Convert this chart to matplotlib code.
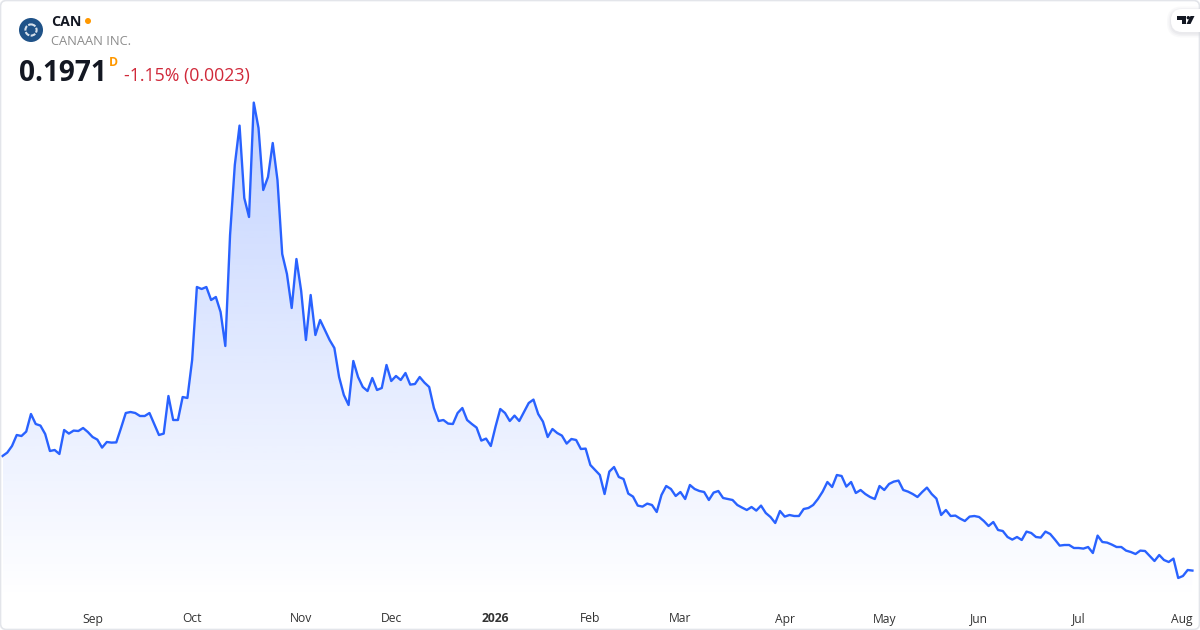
import numpy as np
import matplotlib
matplotlib.use("Agg")
import matplotlib.pyplot as plt
from matplotlib.patches import Circle, FancyBboxPatch, Polygon

plt.rcParams['font.family'] = ['Open Sans', 'DejaVu Sans']

# daily close
prices = [
    0.770, 0.787, 0.820, 0.875, 0.870, 0.892, 0.980, 0.930, 0.922, 0.880,
    0.795, 0.800, 0.780, 0.900, 0.882, 0.897, 0.895, 0.910, 0.890, 0.865,
    0.852, 0.812, 0.840, 0.837, 0.838, 0.910, 0.985, 0.990, 0.985, 0.970,
    0.970, 0.985, 0.930, 0.875, 0.882, 1.070, 0.950, 0.950, 1.065, 1.060,
    1.250, 1.615, 1.605, 1.615, 1.550, 1.565, 1.490, 1.320, 1.875, 2.225,
    2.422, 2.060, 1.965, 2.537, 2.410, 2.100, 2.165, 2.335, 2.150, 1.780,
    1.680, 1.510, 1.755, 1.595, 1.350, 1.575, 1.375, 1.450, 1.400, 1.350,
    1.310, 1.165, 1.075, 1.025, 1.245, 1.165, 1.115, 1.095, 1.160, 1.100,
    1.110, 1.225, 1.145, 1.170, 1.150, 1.185, 1.127, 1.130, 1.165, 1.137,
    1.115, 1.010, 0.945, 0.950, 0.932, 0.930, 0.985, 1.010, 0.950, 0.930,
    0.912, 0.847, 0.857, 0.820, 0.917, 1.005, 0.985, 0.945, 0.972, 0.945,
    0.990, 1.035, 1.052, 0.980, 0.942, 0.865, 0.905, 0.885, 0.872, 0.832,
    0.855, 0.850, 0.805, 0.807, 0.725, 0.700, 0.675, 0.580, 0.692, 0.715,
    0.665, 0.655, 0.582, 0.567, 0.522, 0.517, 0.532, 0.525, 0.490, 0.575,
    0.620, 0.605, 0.570, 0.590, 0.555, 0.625, 0.605, 0.595, 0.590, 0.550,
    0.587, 0.595, 0.560, 0.555, 0.550, 0.525, 0.512, 0.500, 0.515, 0.497,
    0.522, 0.485, 0.465, 0.435, 0.495, 0.467, 0.475, 0.470, 0.470, 0.505,
    0.510, 0.525, 0.555, 0.592, 0.640, 0.615, 0.675, 0.670, 0.617, 0.640,
    0.585, 0.600, 0.580, 0.565, 0.555, 0.620, 0.600, 0.630, 0.642, 0.647,
    0.600, 0.592, 0.580, 0.565, 0.590, 0.612, 0.580, 0.557, 0.475, 0.500,
    0.470, 0.472, 0.457, 0.445, 0.467, 0.470, 0.465, 0.445, 0.420, 0.440,
    0.400, 0.395, 0.365, 0.352, 0.365, 0.350, 0.392, 0.385, 0.365, 0.362,
    0.392, 0.380, 0.352, 0.322, 0.325, 0.325, 0.310, 0.310, 0.307, 0.315,
    0.285, 0.372, 0.340, 0.337, 0.327, 0.315, 0.315, 0.297, 0.290, 0.280,
    0.297, 0.295, 0.270, 0.245, 0.275, 0.250, 0.240, 0.257, 0.160, 0.170,
    0.200, 0.1971,
]
tick_days = [19, 40, 63, 82, 104, 124, 143, 165, 186, 206, 227, 248.7]
tick_labels = ['Sep', 'Oct', 'Nov', 'Dec', '2026', 'Feb', 'Mar', 'Apr', 'May', 'Jun', 'Jul', 'Aug']

days = np.arange(len(prices))

fig = plt.figure(figsize=(12, 6.3), dpi=100)
ax = fig.add_axes([0, 30 / 630, 1, 600 / 630])

# gradient under the line, clipped to the area
fill = ax.fill_between(days, prices, 0.05, facecolor='none', edgecolor='none')
grad = np.zeros((256, 1, 4))
grad[:, 0, 0] = 41 / 255
grad[:, 0, 1] = 98 / 255
grad[:, 0, 2] = 1.0
grad[:, 0, 3] = np.linspace(0.28, 0.0, 256)
img = ax.imshow(grad, extent=[days[0], days[-1], 0.05, max(prices)], aspect='auto', zorder=1, origin='upper')
img.set_clip_path(fill.get_paths()[0], transform=ax.transData)
ax.set_xlim(-0.53, 252.6)
ax.set_ylim(0.05, 3.05)

ax.plot(days, prices, color='#2962ff', lw=1.7, zorder=2, solid_joinstyle='round')

ax.set_xticks(tick_days)
ax.set_xticklabels(tick_labels, fontsize=8.7, color='#333333')
ax.get_xticklabels()[4].set_fontweight('bold')
ax.tick_params(axis='x', length=0, pad=9)
ax.set_yticks([])
for s in ax.spines.values():
    s.set_visible(False)

# overlay in pixel coordinates for the header and frame
ov = fig.add_axes([0, 0, 1, 1], facecolor='none')
ov.set_xlim(0, 1200)
ov.set_ylim(630, 0)
ov.axis('off')

ov.add_patch(FancyBboxPatch((0.5, 0.5), 1199, 629, boxstyle='round,pad=0,rounding_size=6',
                            fc='none', ec='#e3e5ea', lw=1.2))

# logo
ov.add_patch(Circle((31, 30), 12, fc='#1f5288', ec='none'))
ov.add_patch(Circle((31, 30), 5.6, fc='none', ec='#d5dfea', lw=1.5, ls=(0, (2.4, 0.7))))

ov.text(51, 22, 'CAN', fontsize=10.2, fontweight='bold', color='#131722', va='center', ha='left')
ov.add_patch(Circle((88, 21), 3, fc='#ff9800', ec='none'))
ov.text(51, 41.5, 'CANAAN INC.', fontsize=9.3, color='#8c8c8c', va='center', ha='left')
ov.text(19, 73.5, '0.1971', fontsize=20.2, fontweight='bold', color='#131722', va='center', ha='left')
ov.text(109, 62.5, 'D', fontsize=8.8, fontweight='bold', color='#ff9800', va='center', ha='left')
ov.text(124, 75.5, '-1.15% (0.0023)', fontsize=12.8, color='#d0293a', va='center', ha='left')

# TradingView badge
for grow, alpha in [(4, 0.15), (2.5, 0.2), (1, 0.3)]:
    ov.add_patch(FancyBboxPatch((1171 - grow, 9 - grow + 1.5), 50 + 2 * grow, 23 + 2 * grow,
                                boxstyle='round,pad=0,rounding_size=%g' % (11 + grow),
                                fc='#d8d9df', ec='none', alpha=alpha, zorder=4))
ov.add_patch(FancyBboxPatch((1171, 9), 50, 23, boxstyle='round,pad=0,rounding_size=11',
                            fc='white', ec='none', zorder=5))
ov.add_patch(Polygon([(1177, 16), (1186, 16), (1186, 24), (1182, 24), (1182, 19.5), (1177, 19.5)],
                     fc='#131722', ec='none', zorder=6))
ov.add_patch(Circle((1188.3, 17.7), 1.7, fc='#131722', ec='none', zorder=6))
ov.add_patch(Polygon([(1190.5, 16), (1194.5, 16), (1190.5, 24), (1186.5, 24)], fc='#131722', ec='none', zorder=6))
ov.set_xlim(0, 1200)
ov.set_ylim(630, 0)

fig.savefig('out.png', dpi=100)
